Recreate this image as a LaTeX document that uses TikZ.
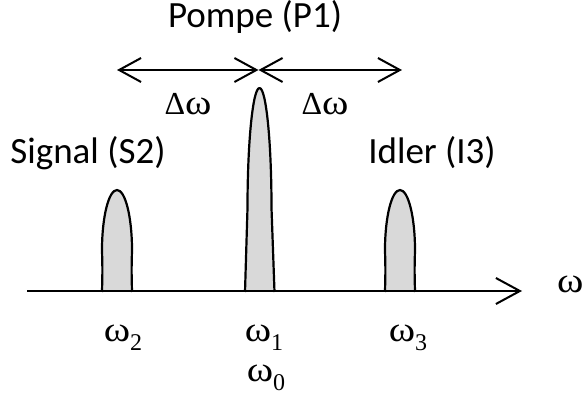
\documentclass[tikz,border=0pt]{standalone}
\usepackage{fontspec}
\setmainfont{Carlito}
\newfontfamily\grk{Liberation Serif}
\usetikzlibrary{arrows.meta}
\newcommand{\w}{\scalebox{1.25}[1.1]{ω}}
\newcommand{\om}[1]{{\grk\w\raisebox{-0.28em}{\fontsize{24}{26}\selectfont #1}}}
\begin{document}
\begin{tikzpicture}[x=1pt,y=-1pt,
  peak/.style={draw=black,fill=gray!30,line width=2.2pt,line join=round},
  axis/.style={line width=2pt,-{Straight Barb[length=24pt,width=26pt,line width=2pt]}},
  span/.style={line width=2pt,{Straight Barb[length=22pt,width=24pt,line width=2pt]}-{Straight Barb[length=22pt,width=24pt,line width=2pt]}},
  lbl/.style={font=\fontsize{37}{42}\selectfont,inner sep=0pt,anchor=base},
  glbl/.style={font=\grk\fontsize{32}{36}\selectfont,inner sep=0pt,anchor=base}]
\useasboundingbox (0,0) rectangle (582,398);
% peaks
\draw[peak] (102,292) .. controls (102.5,270) .. (102,250) arc[start angle=180,end angle=360,x radius=15,y radius=60] .. controls (131.5,270) .. (132,292);
\draw[peak] (245,292) .. controls (246.5,250) .. (247.5,208) arc[start angle=180,end angle=360,x radius=12,y radius=120] .. controls (273,250) .. (274.5,292);
\draw[peak] (385,292) .. controls (385.5,270) .. (385,250) arc[start angle=180,end angle=360,x radius=15,y radius=60] .. controls (414.5,270) .. (415,292);
% axis
\coordinate (ax0) at (27,291);
\coordinate (ax1) at (522,291);
\draw[axis] (ax0) -- (ax1);
% spans
\coordinate (a) at (117,70);
\coordinate (b) at (258.5,70);
\coordinate (c) at (402,70);
\draw[span] (a) -- (b);
\draw[span] (b) -- (c);
% labels
\node[lbl] (pompe) at (255,28) {Pompe (P1)};
\node[lbl] (sig) at (88,164) {Signal (S2)};
\node[lbl] (idl) at (432,164) {Idler (I3)};
\node[glbl] (d1) at (188,115) {Δ\w};
\node[glbl] (d2) at (325,115) {Δ\w};
\node[glbl] (w2) at (123,342) {\om{2}};
\node[glbl] (w1) at (264,342) {\om{1}};
\node[glbl] (w3) at (408,342) {\om{3}};
\node[glbl] (w0) at (266,382) {\om{0}};
\node[glbl,anchor=base west] (w) at (557,293) {\w};
\end{tikzpicture}
\end{document}
